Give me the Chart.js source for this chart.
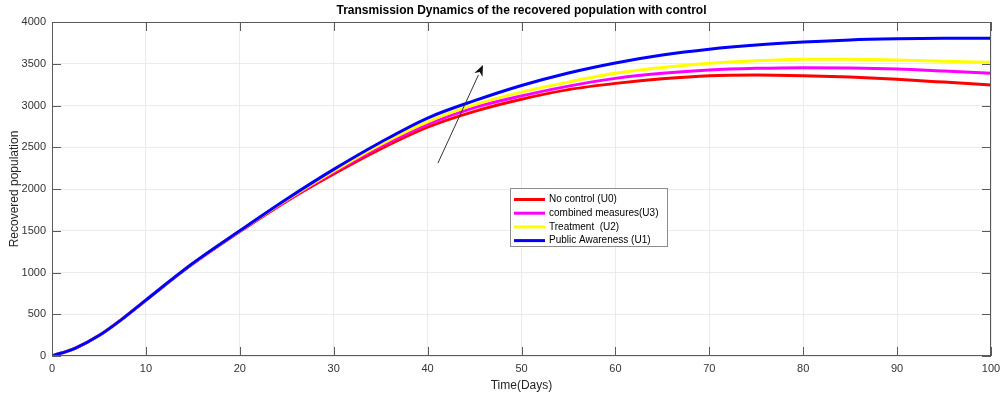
<!DOCTYPE html>
<html>
<head>
<meta charset="utf-8">
<script src="https://cdn.jsdelivr.net/npm/chart.js@4.4.1/dist/chart.umd.min.js"></script>
<style>
html,body{margin:0;padding:0;background:#fff;}
#wrap{position:relative;width:1004px;height:393px;}
</style>
</head>
<body>
<div id="wrap"><canvas id="c" width="1004" height="393"></canvas></div>
<script>
const days = [0,2.5,5,7.5,10,15,20,25,30,35,40,45,50,55,60,65,70,75,80,85,90,95,100];
const noControlU0 = [0,95,245,445,668,1105,1490,1855,2180,2480,2740,2930,3075,3190,3265,3320,3357,3365,3357,3340,3313,3280,3245];
const combinedU3 = [0,95,245,445,668,1106,1494,1862,2200,2510,2775,2975,3115,3232,3325,3385,3425,3445,3453,3450,3437,3412,3385];
const treatmentU2 = [0,95,245,445,669,1108,1497,1870,2215,2535,2805,3010,3160,3280,3385,3455,3505,3535,3553,3555,3545,3530,3517];
const awarenessU1 = [0,95,245,445,670,1110,1500,1880,2235,2560,2850,3058,3240,3390,3510,3605,3675,3725,3760,3785,3798,3805,3806];
const seriesNames = ['No control (U0)','combined measures(U3)','Treatment  (U2)','Public Awareness (U1)'];
const seriesColors = ['#ff0000','#ff00ff','#ffff00','#0000ff'];
const xTicks = [0,10,20,30,40,50,60,70,80,90,100];
const yTicks = [0,500,1000,1500,2000,2500,3000,3500,4000];
const arrowFrom = {x:41.1, y:2310};
const arrowTo = {x:45.9, y:3485};

function pts(arr){ return days.map((d,i)=>({x:d,y:arr[i]})); }
const allSeries = [noControlU0, combinedU3, treatmentU2, awarenessU1];

const datasets = allSeries.map((s,i)=>({
  label: seriesNames[i],
  data: pts(s),
  borderColor: seriesColors[i],
  backgroundColor: seriesColors[i],
  borderWidth: 3,
  pointRadius: 0,
  cubicInterpolationMode: 'monotone',
  fill: false,
  order: 3 - i
}));

const FONT = '"Liberation Sans", Arial, sans-serif';

const decor = {
  id: 'decor',
  afterDatasetsDraw(chart){
    const ctx = chart.ctx, a = chart.chartArea;
    const xs = chart.scales.x, ys = chart.scales.y;
    ctx.save();
    ctx.strokeStyle = '#5a5a5a';
    ctx.lineWidth = 1;
    ctx.strokeRect(a.left+0.5, a.top+0.5, a.right-a.left-1, a.bottom-a.top-1);
    const tl = 9;
    ctx.beginPath();
    xTicks.forEach(v=>{
      const px = Math.round(xs.getPixelForValue(v))+0.5;
      ctx.moveTo(px, a.bottom); ctx.lineTo(px, a.bottom-tl);
      ctx.moveTo(px, a.top); ctx.lineTo(px, a.top+tl);
    });
    yTicks.forEach(v=>{
      const py = Math.round(ys.getPixelForValue(v))+0.5;
      ctx.moveTo(a.left, py); ctx.lineTo(a.left+tl, py);
      ctx.moveTo(a.right, py); ctx.lineTo(a.right-tl, py);
    });
    ctx.stroke();
    // arrow
    const x1 = xs.getPixelForValue(arrowFrom.x), y1 = ys.getPixelForValue(arrowFrom.y);
    const x2 = xs.getPixelForValue(arrowTo.x), y2 = ys.getPixelForValue(arrowTo.y);
    const ang = Math.atan2(y2-y1, x2-x1);
    const hl = 11, hw = 4.5;
    const bx = x2 - hl*Math.cos(ang), by = y2 - hl*Math.sin(ang);
    ctx.strokeStyle = '#333';
    ctx.lineWidth = 1;
    ctx.beginPath(); ctx.moveTo(x1,y1); ctx.lineTo(bx,by); ctx.stroke();
    ctx.fillStyle = '#111';
    ctx.beginPath();
    ctx.moveTo(x2,y2);
    ctx.lineTo(bx + hw*Math.sin(ang), by - hw*Math.cos(ang));
    ctx.lineTo(x2 - 0.7*hl*Math.cos(ang), y2 - 0.7*hl*Math.sin(ang));
    ctx.lineTo(bx - hw*Math.sin(ang), by + hw*Math.cos(ang));
    ctx.closePath(); ctx.fill();
    // legend
    const lx = 510, ly = 188, lw = 157, lh = 58;
    ctx.fillStyle = '#fff';
    ctx.fillRect(lx, ly, lw, lh);
    ctx.strokeStyle = '#8c8c8c';
    ctx.strokeRect(lx+0.5, ly+0.5, lw, lh);
    ctx.font = '10px ' + FONT;
    ctx.textBaseline = 'middle';
    ctx.textAlign = 'left';
    seriesNames.forEach((n,i)=>{
      const yy = ly + 11.5 + i*13.7;
      ctx.strokeStyle = seriesColors[i];
      ctx.lineWidth = 3;
      ctx.beginPath(); ctx.moveTo(lx+4, yy); ctx.lineTo(lx+35, yy); ctx.stroke();
      ctx.fillStyle = '#000';
      ctx.fillText(n, lx+39, yy);
    });
    // title
    ctx.font = 'bold 12px ' + FONT;
    ctx.textAlign = 'center';
    ctx.fillStyle = '#000';
    ctx.fillText('Transmission Dynamics of the recovered population with control', (a.left+a.right)/2, 11);
    ctx.restore();
  }
};

new Chart(document.getElementById('c'), {
  type: 'line',
  data: { datasets },
  options: {
    responsive: false,
    animation: false,
    layout: { padding: { left: 0, top: 22, right: 13, bottom: 0 } },
    plugins: { legend: { display: false }, tooltip: { enabled: false }, title: { display: false } },
    scales: {
      x: {
        type: 'linear', min: 0, max: 100,
        afterFit(s){ s.height = 37; s.paddingRight = 0; s.paddingLeft = 0; },
        afterBuildTicks(s){ s.ticks = xTicks.map(v=>({value:v})); },
        grid: { color: '#ebebeb', drawTicks: false },
        border: { display: false },
        ticks: { padding: 6, color: '#333', font: { size: 11, family: FONT }, maxRotation: 0, callback: v => String(v) },
        title: { display: true, text: 'Time(Days)', color: '#262626', padding: { top: 1, bottom: 0 }, font: { size: 12, family: FONT } }
      },
      y: {
        type: 'linear', min: 0, max: 4000,
        afterFit(s){ s.width = 52; s.paddingTop = 0; s.paddingBottom = 0; },
        afterBuildTicks(s){ s.ticks = yTicks.map(v=>({value:v})); },
        grid: { color: '#ebebeb', drawTicks: false },
        border: { display: false },
        ticks: { padding: 6, color: '#333', font: { size: 11, family: FONT }, callback: v => String(v) },
        title: { display: true, text: 'Recovered population', color: '#262626', padding: { top: 7, bottom: 0 }, font: { size: 12, family: FONT } }
      }
    }
  },
  plugins: [decor]
});
</script>
</body>
</html>
